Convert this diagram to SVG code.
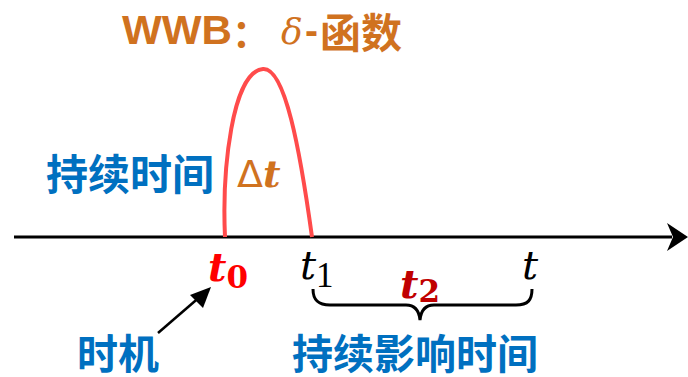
<svg xmlns="http://www.w3.org/2000/svg" width="688" height="377" viewBox="0 0 688 377">
<style>
.cjk{font-family:"Noto Sans CJK SC","Noto Sans",sans-serif;font-weight:bold}
.blue{fill:#0070C0}
.orange{fill:#D0721F}
.math{font-family:"DejaVu Serif","Liberation Serif",serif;font-style:italic}
.line{stroke:#000;stroke-width:3;fill:none}
</style>
<rect width="688" height="377" fill="#fff"/>
<g id="title">
<text x="122" y="44" class="orange" font-family="Liberation Sans,sans-serif" font-weight="bold" font-size="40" textLength="110" lengthAdjust="spacingAndGlyphs">WWB</text>
<text x="232" y="47" class="orange cjk" font-size="38">：</text>
<text x="281" y="44" class="orange math" font-size="36">δ</text>
<text x="305" y="44" class="orange" font-family="Liberation Sans,sans-serif" font-weight="bold" font-size="39">-</text>
<text x="320" y="48" class="orange cjk" font-size="41">函数</text>
</g>
<g id="axis">
<line x1="14" y1="237" x2="672" y2="237" class="line"/>
<polygon points="667,223 688,237 667,251 673,237" fill="#000"/>
</g>
<g id="pulse">
<path d="M225,237 C222,170 232,72 263,69 C285,67 300,150 312,237" fill="none" stroke="#FF4B4B" stroke-width="4"/>
</g>
<g id="duration">
<text x="46" y="190" class="blue cjk" font-size="42">持续时间</text>
<text x="237" y="187" class="orange" font-family="DejaVu Sans,sans-serif" font-size="38">Δ<tspan class="math" font-weight="bold" font-size="38">t</tspan></text>
</g>
<g id="labels">
<text x="208" y="281" class="math" font-weight="bold" font-size="40" fill="#FF0000">t<tspan font-size="31" dy="7" font-style="normal">0</tspan></text>
<text x="300" y="279" class="math" font-size="40" fill="#000">t<tspan font-size="35" dy="8" font-style="normal" font-family="Liberation Serif,serif">1</tspan></text>
<text x="400" y="298" class="math" font-weight="bold" font-size="40" fill="#C00000">t<tspan font-size="31" dy="4" font-style="normal">2</tspan></text>
<text x="522" y="279" class="math" font-size="40" fill="#000">t</text>
</g>
<g id="connectors">
<path d="M313,289 C313,300 318,305 330,305 L406,305 C415,305 419,310 420,320 C421,310 425,305 434,305 L516,305 C528,305 532,300 532,289" class="line" stroke-width="2.5"/>
<line x1="158" y1="333" x2="202" y2="295" stroke="#000" stroke-width="2.5"/>
<polygon points="211,287 190,295 203,308" fill="#000"/>
</g>
<g id="timing">
<text x="77" y="369" class="blue cjk" font-size="41">时机</text>
</g>
<g id="influence">
<text x="292" y="369" class="blue cjk" font-size="41">持续影响时间</text>
</g>
</svg>
